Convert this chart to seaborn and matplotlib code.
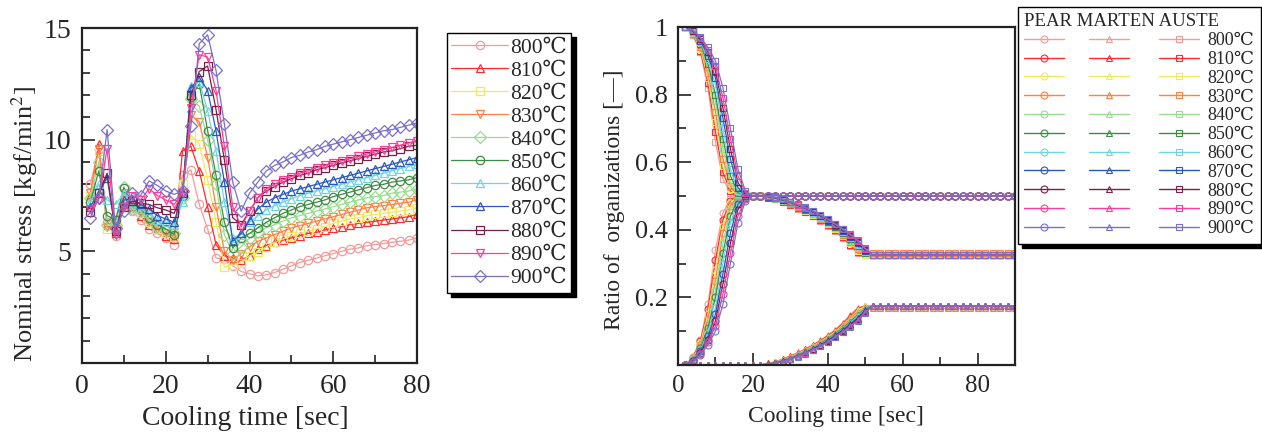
import matplotlib
matplotlib.use('Agg')
import matplotlib.pyplot as plt
import seaborn as sns
from matplotlib.lines import Line2D
from matplotlib.ticker import MultipleLocator

temps = [800, 810, 820, 830, 840, 850, 860, 870, 880, 890, 900]
temp_labels = [f'{t}℃' for t in temps]

colors = ['#f49a9a', '#ff2a2a', '#f0e860', '#ff8040', '#98dc90', '#3f8a44',
          '#70d4e0', '#2a56c0', '#7a2048', '#ff3c96', '#7a70c8']
stress_markers = ['o', '^', 's', 'v', 'D', 'o', '^', '^', 's', 'v', 'D']

# --- left chart: nominal stress, t = 2, 4, ... 80 sec
stress_time = list(range(2, 81, 2))
stress_800 = [8.0, 9.6, 6.3, 5.7, 7.0, 6.8, 6.4, 6.0, 5.8, 5.6, 5.3, 8.4,
              8.65, 7.1, 6.0, 4.7, 4.65, 4.35, 4.1, 4.0,
              3.9, 3.95, 4.05, 4.2, 4.35, 4.5, 4.6, 4.7, 4.8, 4.9,
              5.0, 5.1, 5.15, 5.25, 5.3, 5.35, 5.4, 5.45, 5.5, 5.6]
stress_810 = [7.5, 9.8, 6.2, 5.8, 7.1, 7.1, 6.6, 6.2, 6.0, 5.7, 5.55, 9.5,
              9.7, 8.6, 7.0, 5.3, 4.8, 4.7, 4.6, 4.8,
              5.1, 5.25, 5.4, 5.5, 5.6, 5.7, 5.8, 5.85, 5.95, 6.05,
              6.1, 6.2, 6.25, 6.3, 6.35, 6.4, 6.45, 6.5, 6.55, 6.65]
stress_820 = [7.5, 9.5, 6.0, 6.1, 7.3, 6.9, 6.7, 6.3, 6.0, 5.8, 5.65, 8.0,
              10.2, 9.8, 8.2, 6.3, 4.3, 4.4, 4.5, 4.8,
              4.95, 5.2, 5.4, 5.55, 5.7, 5.8, 5.9, 6.0, 6.1, 6.25,
              6.35, 6.45, 6.5, 6.6, 6.65, 6.7, 6.75, 6.8, 6.85, 6.95]
stress_830 = [7.6, 9.6, 6.1, 5.9, 7.6, 7.0, 6.8, 6.3, 6.0, 5.8, 5.7, 7.6,
              11.1, 10.8, 9.2, 7.0, 5.0, 4.6, 4.9, 5.2,
              5.45, 5.6, 5.75, 5.9, 6.05, 6.15, 6.25, 6.35, 6.45, 6.55,
              6.65, 6.75, 6.85, 6.95, 7.0, 7.05, 7.1, 7.15, 7.2, 7.3]
stress_840 = [7.4, 9.0, 6.2, 6.2, 7.9, 6.9, 6.8, 6.4, 6.1, 5.9, 5.8, 7.4,
              11.8, 11.5, 10.0, 8.0, 5.75, 4.9, 5.2, 5.6,
              5.85, 6.05, 6.2, 6.35, 6.5, 6.6, 6.7, 6.8, 6.9, 7.0,
              7.1, 7.2, 7.3, 7.4, 7.45, 7.5, 7.6, 7.65, 7.7, 7.8]
stress_850 = [7.2, 8.6, 6.6, 6.4, 7.85, 7.0, 6.9, 6.5, 6.2, 6.0, 5.75, 7.5,
              11.9, 12.5, 10.4, 8.4, 6.3, 5.15, 5.6, 5.8,
              6.05, 6.3, 6.5, 6.7, 6.85, 7.0, 7.1, 7.2, 7.3, 7.45,
              7.55, 7.65, 7.75, 7.85, 7.95, 8.0, 8.1, 8.15, 8.2, 8.3]
stress_860 = [7.2, 8.0, 7.3, 7.1, 7.6, 7.0, 6.9, 6.7, 6.4, 6.3, 6.2, 7.2,
              12.4, 12.6, 11.3, 9.5, 7.2, 5.6, 5.75, 6.3,
              6.6, 6.85, 7.05, 7.2, 7.35, 7.5, 7.6, 7.7, 7.8, 7.9,
              8.0, 8.1, 8.2, 8.3, 8.4, 8.5, 8.6, 8.7, 8.8, 8.9]
stress_870 = [7.0, 7.6, 8.3, 5.9, 7.3, 7.35, 7.1, 6.9, 6.6, 6.45, 6.3, 7.6,
              12.3, 12.8, 12.2, 10.4, 8.1, 5.45, 5.8, 6.4,
              6.9, 7.2, 7.4, 7.55, 7.7, 7.8, 7.9, 8.0, 8.1, 8.2,
              8.3, 8.4, 8.5, 8.6, 8.7, 8.8, 8.9, 9.0, 9.1, 9.2]
stress_880 = [6.75, 7.6, 8.5, 5.9, 7.0, 7.25, 7.15, 7.1, 6.95, 6.85, 6.7, 7.6,
              12.0, 13.05, 13.3, 11.35, 9.1, 6.5, 6.2, 6.8,
              7.4, 7.7, 7.9, 8.1, 8.25, 8.4, 8.5, 8.65, 8.75, 8.85,
              8.95, 9.05, 9.15, 9.25, 9.35, 9.45, 9.5, 9.6, 9.7, 9.75]
stress_890 = [6.9, 7.3, 9.6, 5.75, 7.0, 7.5, 7.3, 7.8, 7.5, 7.3, 7.1, 7.6,
              11.4, 13.8, 13.7, 12.2, 9.7, 7.0, 6.1, 6.8,
              7.4, 7.8, 8.0, 8.2, 8.35, 8.5, 8.6, 8.75, 8.85, 8.95,
              9.05, 9.15, 9.25, 9.35, 9.45, 9.55, 9.65, 9.75, 9.85, 9.95]
stress_900 = [6.5, 7.4, 10.45, 6.05, 6.8, 7.6, 7.5, 8.15, 7.95, 7.7, 7.55, 7.7,
              10.6, 14.3, 14.7, 13.1, 10.7, 8.1, 6.8, 7.6,
              8.1, 8.6, 8.85, 9.0, 9.2, 9.3, 9.45, 9.55, 9.7, 9.8,
              9.9, 10.0, 10.1, 10.2, 10.3, 10.4, 10.45, 10.55, 10.65, 10.75]
stress_series = [stress_800, stress_810, stress_820, stress_830, stress_840, stress_850,
                 stress_860, stress_870, stress_880, stress_890, stress_900]

# --- right chart: ratio of organizations, t = 2, 4, ... 90 sec
ratio_time = list(range(2, 91, 2))
# pearlite, t = 2..20, one row per temperature, then flat
pear_rise = [
    [0.00, 0.025, 0.075, 0.18, 0.34, 0.45, 0.49, 0.50, 0.50, 0.50],
    [0.00, 0.022, 0.070, 0.165, 0.31, 0.43, 0.485, 0.50, 0.50, 0.50],
    [0.00, 0.020, 0.065, 0.15, 0.28, 0.41, 0.48, 0.50, 0.50, 0.50],
    [0.00, 0.020, 0.060, 0.135, 0.25, 0.39, 0.47, 0.50, 0.50, 0.50],
    [0.00, 0.018, 0.055, 0.12, 0.22, 0.36, 0.46, 0.495, 0.50, 0.50],
    [0.00, 0.016, 0.050, 0.11, 0.20, 0.33, 0.44, 0.49, 0.50, 0.50],
    [0.00, 0.015, 0.045, 0.095, 0.17, 0.30, 0.42, 0.485, 0.50, 0.50],
    [0.00, 0.013, 0.040, 0.085, 0.15, 0.27, 0.39, 0.475, 0.50, 0.50],
    [0.00, 0.012, 0.035, 0.075, 0.13, 0.24, 0.36, 0.46, 0.495, 0.50],
    [0.00, 0.010, 0.032, 0.068, 0.115, 0.21, 0.33, 0.44, 0.49, 0.50],
    [0.00, 0.010, 0.030, 0.06, 0.10, 0.18, 0.30, 0.42, 0.485, 0.50],
]
pear_final = 0.50
# austenite, t = 2..20
aust_fall = [
    [1.00, 0.975, 0.925, 0.82, 0.66, 0.55, 0.51, 0.50, 0.50, 0.50],
    [1.00, 0.978, 0.930, 0.835, 0.69, 0.57, 0.515, 0.50, 0.50, 0.50],
    [1.00, 0.980, 0.935, 0.85, 0.72, 0.59, 0.52, 0.50, 0.50, 0.50],
    [1.00, 0.980, 0.940, 0.865, 0.75, 0.61, 0.53, 0.50, 0.50, 0.50],
    [1.00, 0.982, 0.945, 0.88, 0.78, 0.64, 0.54, 0.505, 0.50, 0.50],
    [1.00, 0.984, 0.950, 0.89, 0.80, 0.67, 0.56, 0.51, 0.50, 0.50],
    [1.00, 0.985, 0.955, 0.905, 0.83, 0.70, 0.58, 0.515, 0.50, 0.50],
    [1.00, 0.987, 0.960, 0.915, 0.85, 0.73, 0.61, 0.525, 0.50, 0.50],
    [1.00, 0.988, 0.965, 0.925, 0.87, 0.76, 0.64, 0.54, 0.505, 0.50],
    [1.00, 0.990, 0.968, 0.932, 0.885, 0.79, 0.67, 0.56, 0.51, 0.50],
    [1.00, 0.990, 0.970, 0.94, 0.90, 0.82, 0.70, 0.58, 0.515, 0.50],
]
# martensite, t = 24..52
mart_rise = [
    [0.005, 0.010, 0.018, 0.027, 0.037, 0.048, 0.060, 0.073, 0.088, 0.105, 0.125, 0.148, 0.170, 0.175, 0.175],
    [0.005, 0.009, 0.017, 0.026, 0.035, 0.046, 0.058, 0.071, 0.086, 0.102, 0.122, 0.144, 0.166, 0.175, 0.175],
    [0.004, 0.009, 0.016, 0.024, 0.034, 0.044, 0.056, 0.069, 0.083, 0.099, 0.118, 0.140, 0.162, 0.174, 0.175],
    [0.004, 0.008, 0.015, 0.023, 0.032, 0.042, 0.054, 0.067, 0.081, 0.096, 0.115, 0.136, 0.158, 0.168, 0.168],
    [0.003, 0.008, 0.014, 0.022, 0.031, 0.041, 0.052, 0.065, 0.079, 0.094, 0.112, 0.132, 0.153, 0.170, 0.175],
    [0.003, 0.007, 0.013, 0.021, 0.030, 0.040, 0.051, 0.063, 0.077, 0.092, 0.109, 0.128, 0.148, 0.168, 0.175],
    [0.002, 0.006, 0.012, 0.020, 0.029, 0.039, 0.050, 0.061, 0.075, 0.090, 0.106, 0.124, 0.144, 0.165, 0.175],
    [0.002, 0.006, 0.012, 0.019, 0.028, 0.037, 0.048, 0.059, 0.073, 0.088, 0.104, 0.121, 0.140, 0.162, 0.175],
    [0.001, 0.005, 0.011, 0.018, 0.027, 0.036, 0.047, 0.058, 0.071, 0.086, 0.101, 0.118, 0.137, 0.160, 0.175],
    [0.001, 0.005, 0.010, 0.018, 0.026, 0.035, 0.045, 0.056, 0.069, 0.084, 0.099, 0.115, 0.133, 0.157, 0.175],
    [0.000, 0.004, 0.010, 0.017, 0.025, 0.034, 0.044, 0.055, 0.068, 0.082, 0.097, 0.113, 0.130, 0.155, 0.175],
]
mart_final = [0.175, 0.175, 0.175, 0.168, 0.175, 0.175, 0.175, 0.175, 0.175, 0.175, 0.175]
# austenite, t = 24..52
aust_decay = [
    [0.495, 0.490, 0.482, 0.473, 0.463, 0.452, 0.440, 0.427, 0.412, 0.395, 0.375, 0.352, 0.330, 0.325, 0.325],
    [0.495, 0.491, 0.483, 0.474, 0.465, 0.454, 0.442, 0.429, 0.414, 0.398, 0.378, 0.356, 0.334, 0.325, 0.325],
    [0.496, 0.491, 0.484, 0.476, 0.466, 0.456, 0.444, 0.431, 0.417, 0.401, 0.382, 0.360, 0.338, 0.326, 0.325],
    [0.496, 0.492, 0.485, 0.477, 0.468, 0.458, 0.446, 0.433, 0.419, 0.404, 0.385, 0.364, 0.342, 0.332, 0.332],
    [0.497, 0.492, 0.486, 0.478, 0.469, 0.459, 0.448, 0.435, 0.421, 0.406, 0.388, 0.368, 0.347, 0.330, 0.325],
    [0.497, 0.493, 0.487, 0.479, 0.470, 0.460, 0.449, 0.437, 0.423, 0.408, 0.391, 0.372, 0.352, 0.332, 0.325],
    [0.498, 0.494, 0.488, 0.480, 0.471, 0.461, 0.450, 0.439, 0.425, 0.410, 0.394, 0.376, 0.356, 0.335, 0.325],
    [0.498, 0.494, 0.488, 0.481, 0.472, 0.463, 0.452, 0.441, 0.427, 0.412, 0.396, 0.379, 0.360, 0.338, 0.325],
    [0.499, 0.495, 0.489, 0.482, 0.473, 0.464, 0.453, 0.442, 0.429, 0.414, 0.399, 0.382, 0.363, 0.340, 0.325],
    [0.499, 0.495, 0.490, 0.482, 0.474, 0.465, 0.455, 0.444, 0.431, 0.416, 0.401, 0.385, 0.367, 0.343, 0.325],
    [0.500, 0.496, 0.490, 0.483, 0.475, 0.466, 0.456, 0.445, 0.432, 0.418, 0.403, 0.387, 0.370, 0.345, 0.325],
]
aust_final = [0.325, 0.325, 0.325, 0.332, 0.325, 0.325, 0.325, 0.325, 0.325, 0.325, 0.325]

sns.set_theme(style='ticks')
plt.rcParams['font.family'] = ['Liberation Serif', 'DejaVu Serif']
plt.rcParams['mathtext.fontset'] = 'stix'
plt.rcParams['axes.linewidth'] = 1.6
plt.rcParams['axes.edgecolor'] = '#222222'

fig = plt.figure(figsize=(12.62, 4.32), dpi=100)
ax1 = fig.add_axes([82 / 1262, 69 / 432, 335 / 1262, 335 / 432])
ax2 = fig.add_axes([678 / 1262, 67 / 432, 337 / 1262, 338 / 432])

# left chart
for vals, color, mk in zip(stress_series, colors, stress_markers):
    sns.lineplot(x=stress_time, y=vals, ax=ax1, color=color, lw=0.9,
                 marker=mk, ms=6 if mk != 'D' else 6.5, mfc='none', mec=color, mew=0.9)
ax1.set_xlim(0, 80)
ax1.set_ylim(0, 15)
ax1.set_yticks([5, 10, 15])
ax1.yaxis.set_minor_locator(MultipleLocator(1))
ax1.set_xticks([0, 20, 40, 60, 80])
ax1.xaxis.set_minor_locator(MultipleLocator(10))
ax1.tick_params(which='both', direction='in', labelsize=20, color='#222222', width=1.2)
ax1.tick_params(which='major', length=9, pad=8)
ax1.tick_params(which='minor', length=6)
ax1.set_xlabel('Cooling time [sec]', fontsize=20)
ax1.set_ylabel('Nominal stress [kgf/min$^2$]', fontsize=19)
ax1.xaxis.set_label_coords(0.487, -0.128)
ax1.yaxis.set_label_coords(-0.125, 0.415)

handles1 = [Line2D([], [], color=c, lw=0.9, marker=m, ms=6, mfc='none', mec=c, mew=0.9)
            for c, m in zip(colors, stress_markers)]
fig.legend(handles1, temp_labels, loc='upper left', bbox_to_anchor=(447 / 1262, 1 - 33 / 432),
           fontsize=15.5, frameon=True, fancybox=False, edgecolor='black',
           shadow={'ox': 3, 'oy': -3, 'color': 'black', 'alpha': 1.0},
           handlelength=2.65, handletextpad=0.1, labelspacing=0.14, borderpad=0.2,
           borderaxespad=0)

# right chart
for phase_marker, phase in (('o', 'P'), ('^', 'M'), ('s', 'A')):
    for i, color in enumerate(colors):
        if phase == 'P':
            vals = pear_rise[i] + [pear_final] * 35
        elif phase == 'M':
            vals = [0.0] * 11 + mart_rise[i] + [mart_final[i]] * 19
        else:
            vals = aust_fall[i] + [0.50] + aust_decay[i] + [aust_final[i]] * 19
        sns.lineplot(x=ratio_time, y=vals, ax=ax2, color=color, lw=0.9,
                     marker=phase_marker, ms=5, mfc='none', mec=color, mew=0.8)
ax2.set_xlim(0, 90)
ax2.set_ylim(0, 1)
ax2.set_yticks([0.2, 0.4, 0.6, 0.8, 1.0])
ax2.set_yticklabels(['0.2', '0.4', '0.6', '0.8', '1'])
ax2.yaxis.set_minor_locator(MultipleLocator(0.1))
ax2.set_xticks([0, 20, 40, 60, 80])
ax2.xaxis.set_minor_locator(MultipleLocator(10))
ax2.tick_params(which='both', direction='in', labelsize=18, color='#222222', width=1.2)
ax2.tick_params(which='major', length=9, pad=7)
ax2.tick_params(which='minor', length=6)
ax2.tick_params(axis='y', labelsize=19)
ax2.set_xlabel('Cooling time [sec]', fontsize=17)
ax2.set_ylabel('Ratio of  organizations [—]', fontsize=17)
ax2.xaxis.set_label_coords((836 - 678) / 337, -0.121)
ax2.yaxis.set_label_coords(-0.157, 0.488)

handles2, labels2 = [], []
for mk, pad_label in (('o', ''), ('^', ' '), ('s', None)):
    for c, lab in zip(colors, temp_labels):
        handles2.append(Line2D([], [], color=c, lw=1.0, marker=mk, ms=5, mfc='none', mec=c, mew=0.8))
        labels2.append(lab if pad_label is None else pad_label)
fig.legend(handles2, labels2, ncol=3, loc='upper left', bbox_to_anchor=(1018 / 1262, 1 - 7 / 432),
           title='PEAR MARTEN AUSTE', title_fontsize=13.5, alignment='left',
           fontsize=13, frameon=True, fancybox=False, edgecolor='black',
           shadow={'ox': 3, 'oy': -3, 'color': 'black', 'alpha': 1.0},
           handlelength=2.2, handletextpad=0.5, columnspacing=0.9, labelspacing=0.1,
           borderpad=0.35, borderaxespad=0)

fig.savefig('out.png', dpi=100)
